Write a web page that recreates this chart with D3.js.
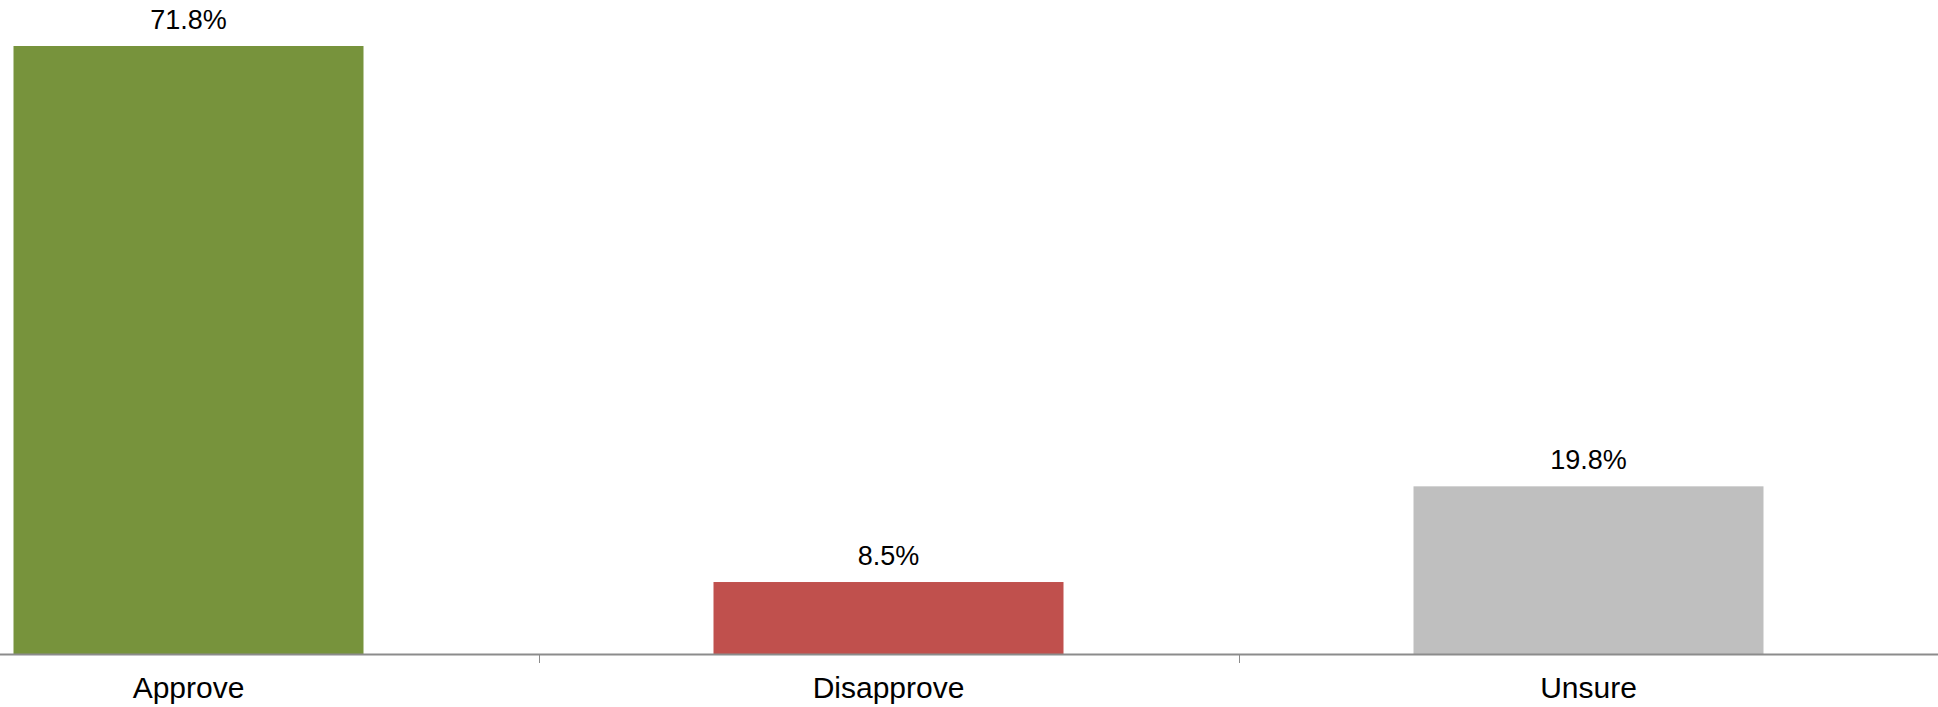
<!DOCTYPE html>
<html><head><meta charset="utf-8">
<script src="https://cdn.jsdelivr.net/npm/d3@7"></script>
<style>html,body{margin:0;padding:0;background:#fff;overflow:hidden}</style>
</head><body>
<svg id="chart" width="1938" height="707"></svg>
<script>
const categories = ["Approve", "Disapprove", "Unsure"];
const values = [71.8, 8.5, 19.8];
const colors = ["#77933c", "#c0504d", "#bfbfbf"];
const valueLabels = ["71.8%", "8.5%", "19.8%"];

const svg = d3.select("#chart");
const W = 1938, H = 707;
const baseY = 654, topY = 46;

const x = d3.scaleBand().domain(categories).range([-161.5, 1938.5]).paddingInner(0.5).paddingOuter(0.25);
const y = d3.scaleLinear().domain([0, 71.8]).range([baseY, topY]);

svg.selectAll("rect.bar").data(categories).enter().append("rect")
  .attr("class", "bar")
  .attr("x", d => x(d))
  .attr("width", x.bandwidth())
  .attr("y", (d, i) => y(values[i]))
  .attr("height", (d, i) => baseY - y(values[i]))
  .attr("fill", (d, i) => colors[i]);

// axis line
svg.append("line").attr("x1", 0).attr("x2", W).attr("y1", baseY + 0.5).attr("y2", baseY + 0.5)
  .attr("stroke", "#8c8c8c").attr("stroke-width", 2);

// ticks between categories
const step = x.step();
const tickPos = categories.slice(1).map(c => x(c) - (step - x.bandwidth()) / 2);
svg.selectAll("line.tick").data(tickPos).enter().append("line")
  .attr("class", "tick")
  .attr("x1", d => Math.round(d) + 0.5).attr("x2", d => Math.round(d) + 0.5)
  .attr("y1", baseY).attr("y2", baseY + 9)
  .attr("stroke", "#8c8c8c").attr("stroke-width", 1);

// category labels
svg.selectAll("text.cat").data(categories).enter().append("text")
  .attr("class", "cat")
  .attr("x", d => x(d) + x.bandwidth() / 2)
  .attr("y", 698)
  .attr("text-anchor", "middle")
  .attr("font-family", "Liberation Sans, Arial, sans-serif")
  .attr("font-size", 30)
  .attr("fill", "#000")
  .text(d => d);

// value labels
svg.selectAll("text.val").data(categories).enter().append("text")
  .attr("class", "val")
  .attr("x", d => x(d) + x.bandwidth() / 2)
  .attr("y", (d, i) => y(values[i]) - 17)
  .attr("text-anchor", "middle")
  .attr("font-family", "Liberation Sans, Arial, sans-serif")
  .attr("font-size", 27)
  .attr("fill", "#000")
  .text((d, i) => valueLabels[i]);
</script>
</body></html>
